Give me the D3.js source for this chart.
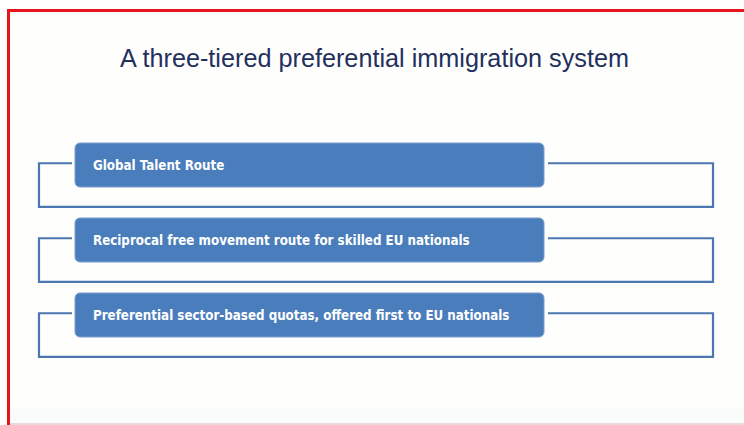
<!DOCTYPE html>
<html>
<head>
<meta charset="utf-8">
<script src="https://cdn.jsdelivr.net/npm/d3@7"></script>
<style>
  html, body { margin: 0; padding: 0; background: #ffffff; }
  svg { display: block; }
</style>
</head>
<body>
<div id="chart"></div>
<script>
// slide content
var title = "A three-tiered preferential immigration system";
var tiers = [
  "Global Talent Route",
  "Reciprocal free movement route for skilled EU nationals",
  "Preferential sector-based quotas, offered first to EU nationals"
];

window.onload = () => {
  var width = 744,
    height = 425;

  var svg = d3.select("#chart").append("svg")
    .attr("width", width)
    .attr("height", height);

  // slide background + frame (bottom edge is faded in the original)
  svg.append("rect")
    .attr("x", 7.5)
    .attr("y", 10.5)
    .attr("width", width + 10)
    .attr("height", 412)
    .attr("fill", "#fefefd");

  svg.append("rect")
    .attr("x", 9)
    .attr("y", 408)
    .attr("width", width)
    .attr("height", 15)
    .attr("fill", "#f9fcfb");

  svg.append("line")
    .attr("x1", 9).attr("x2", width)
    .attr("y1", 424).attr("y2", 424)
    .attr("stroke", "#e6cbc8")
    .attr("stroke-width", 1.5);

  svg.append("path")
    .attr("fill", "none")
    .attr("stroke", "#e8141c")
    .attr("stroke-width", 3)
    .attr("d", "M8.5,425V10.5H" + width);

  svg.append("text")
    .attr("x", 120)
    .attr("y", 67)
    .attr("fill", "#23305e")
    .style("font-family", "'Liberation Sans', Arial, sans-serif")
    .style("font-size", "25.5px")
    .attr("textLength", 509)
    .attr("lengthAdjust", "spacingAndGlyphs")
    .text(title);

  // one row per tier: step 75, box height 44
  var y = d3.scaleBand()
    .domain(tiers)
    .range([143, 337])
    .paddingInner(0.413)
    .paddingOuter(0)
    .align(0);

  var boxLeft = 75,
    boxRight = 544,
    outerLeft = 39,
    outerRight = 713;

  var row = svg.selectAll("g.tier")
    .data(tiers)
    .join("g")
      .attr("class", "tier")
      .attr("transform", d => "translate(0," + y(d) + ")");

  // bracket outline behind the box
  row.append("path")
    .attr("fill", "none")
    .attr("stroke", "#4c77b0")
    .attr("stroke-width", 2.2)
    .attr("d", d => {
      var h = y.bandwidth();
      var t = h * 0.46, b = h * 1.45;
      return "M" + (boxLeft - 3) + "," + t +
        "H" + outerLeft + "V" + b + "H" + outerRight + "V" + t + "H" + (boxRight + 4);
    });

  row.append("rect")
    .attr("x", boxLeft)
    .attr("y", 0)
    .attr("width", boxRight - boxLeft)
    .attr("height", y.bandwidth())
    .attr("rx", 5)
    .attr("fill", "#4a7dbb")
    .attr("stroke", "#7b9fcc")
    .attr("stroke-width", 1);

  row.append("text")
    .attr("x", 93)
    .attr("y", y.bandwidth() / 2 + 5)
    .attr("fill", "#ffffff")
    .style("font-family", "'DejaVu Sans Condensed', 'DejaVu Sans', sans-serif")
    .style("font-weight", "bold")
    .style("font-size", "14px")
    .text(d => d)
    .each(function() {
      // squeeze a little, the original font is narrower
      var w = this.getComputedTextLength();
      d3.select(this)
        .attr("textLength", w * 0.945)
        .attr("lengthAdjust", "spacingAndGlyphs");
    });
};
</script>
</body>
</html>
